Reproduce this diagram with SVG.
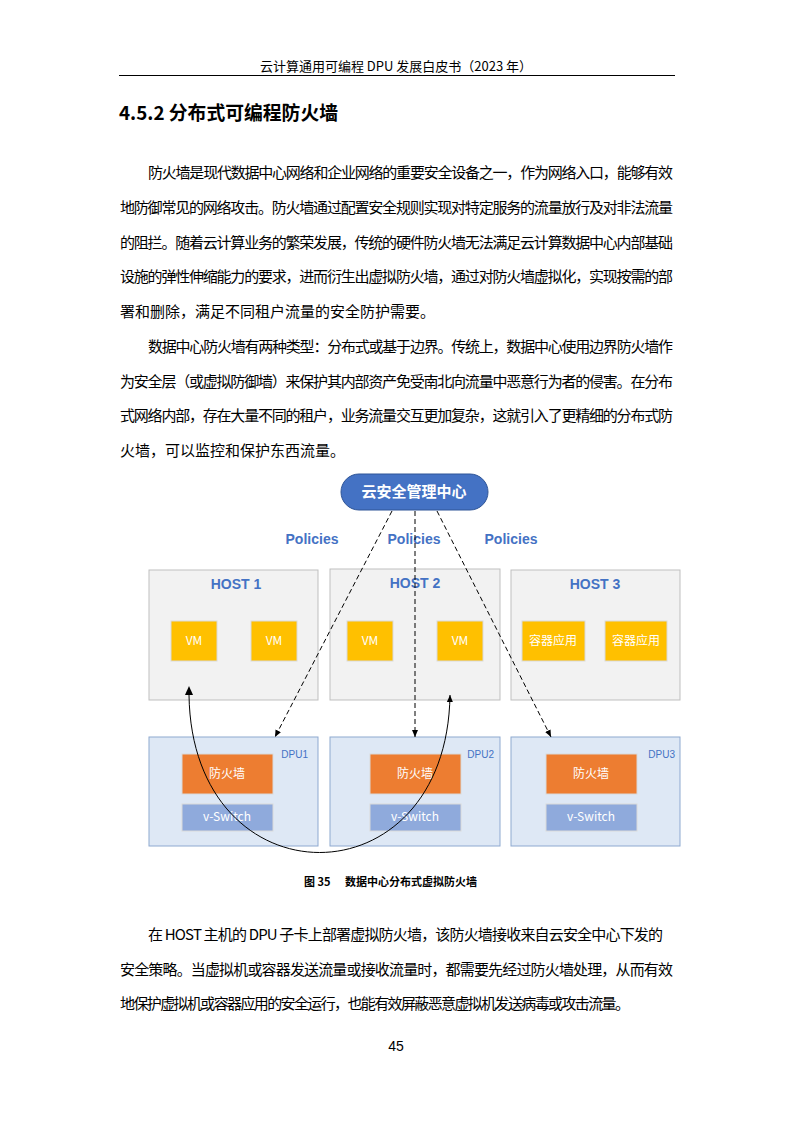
<svg xmlns="http://www.w3.org/2000/svg" width="793" height="1122" viewBox="0 0 793 1122">
<style>
.t{font-family:"Noto Sans CJK SC","Noto Sans",sans-serif;font-size:15px;fill:#000}
.host{fill:#f2f2f2;stroke:#bfbfbf;stroke-width:1}
.dpu{fill:#dee8f5;stroke:#8ea9d0;stroke-width:1}
.vm{fill:#ffc000;stroke:#d9d9d9;stroke-width:1}
.fw{fill:#ed7d31;stroke:#d9d9d9;stroke-width:1}
.vs{fill:#8faadc;stroke:#d9d9d9;stroke-width:1}
.wl{font-family:"Noto Sans CJK SC","Noto Sans",sans-serif;font-size:12px;fill:#fff;text-anchor:middle}
.hl{font-family:"Liberation Sans","Noto Sans",sans-serif;font-size:14px;font-weight:bold;fill:#4472c4;text-anchor:middle}
.dl{font-family:"Liberation Sans",sans-serif;font-size:10px;fill:#4472c4;text-anchor:end}
.dash{stroke:#000;stroke-width:1;stroke-dasharray:5,3;fill:none}
.cap{font-family:"Noto Sans CJK SC",sans-serif;font-size:11px;font-weight:bold}
</style>
<defs>
<marker id="ah" markerWidth="8" markerHeight="8" refX="7" refY="4" orient="auto" markerUnits="userSpaceOnUse"><path d="M0,1 L7,4 L0,7 z" fill="#000"/></marker>
</defs>
<rect width="793" height="1122" fill="#fff"/>
<text x="396" y="71" class="t" text-anchor="middle" style="font-size:13px">云计算通用可编程 DPU 发展白皮书（2023 年）</text>
<line x1="119" y1="75.5" x2="675" y2="75.5" stroke="#000" stroke-width="1"/>
<text x="119" y="120" class="t" style="font-size:19px;font-weight:bold" textLength="219" lengthAdjust="spacingAndGlyphs">4.5.2 分布式可编程防火墙</text>

<text x="148" y="178" class="t" textLength="525" lengthAdjust="spacing">防火墙是现代数据中心网络和企业网络的重要安全设备之一，作为网络入口，能够有效</text>
<text x="120" y="213" class="t" textLength="553" lengthAdjust="spacing">地防御常见的网络攻击。防火墙通过配置安全规则实现对特定服务的流量放行及对非法流量</text>
<text x="120" y="248" class="t" textLength="553" lengthAdjust="spacing">的阻拦。随着云计算业务的繁荣发展，传统的硬件防火墙无法满足云计算数据中心内部基础</text>
<text x="120" y="282" class="t" textLength="553" lengthAdjust="spacing">设施的弹性伸缩能力的要求，进而衍生出虚拟防火墙，通过对防火墙虚拟化，实现按需的部</text>
<text x="120" y="317" class="t">署和删除，满足不同租户流量的安全防护需要。</text>
<text x="148" y="352" class="t" textLength="525" lengthAdjust="spacing">数据中心防火墙有两种类型：分布式或基于边界。传统上，数据中心使用边界防火墙作</text>
<text x="120" y="387" class="t" textLength="553" lengthAdjust="spacing">为安全层（或虚拟防御墙）来保护其内部资产免受南北向流量中恶意行为者的侵害。在分布</text>
<text x="120" y="421" class="t" textLength="553" lengthAdjust="spacing">式网络内部，存在大量不同的租户，业务流量交互更加复杂，这就引入了更精细的分布式防</text>
<text x="120" y="456" class="t">火墙，可以监控和保护东西流量。</text>

<g id="host1"><rect class="host" x="149" y="570" width="169" height="130"/><text class="hl" x="236" y="589">HOST 1</text>
<rect class="vm" x="171" y="621" width="46" height="40"/><text class="wl" x="194" y="645">VM</text>
<rect class="vm" x="251" y="621" width="46" height="40"/><text class="wl" x="274" y="645">VM</text></g>
<g id="host2"><rect class="host" x="330" y="569" width="170" height="131"/><text class="hl" x="415" y="588">HOST 2</text>
<rect class="vm" x="347" y="621" width="46" height="40"/><text class="wl" x="370" y="645">VM</text>
<rect class="vm" x="437" y="621" width="46" height="40"/><text class="wl" x="460" y="645">VM</text></g>
<g id="host3"><rect class="host" x="511" y="570" width="169" height="130"/><text class="hl" x="595" y="589">HOST 3</text>
<rect class="vm" x="522" y="621" width="63" height="40"/><text class="wl" x="553" y="645">容器应用</text>
<rect class="vm" x="605" y="621" width="62" height="40"/><text class="wl" x="636" y="645">容器应用</text></g>

<g id="dpu1"><rect class="dpu" x="149" y="737" width="169" height="109"/><text class="dl" x="308" y="758">DPU1</text>
<rect class="fw" x="182" y="754" width="91" height="40"/><text class="wl" x="227" y="778">防火墙</text>
<rect class="vs" x="182" y="804" width="91" height="27"/><text class="wl" x="227" y="821">v-Switch</text></g>
<g id="dpu2"><rect class="dpu" x="330" y="737" width="170" height="109"/><text class="dl" x="494" y="758">DPU2</text>
<rect class="fw" x="370" y="754" width="91" height="40"/><text class="wl" x="415" y="778">防火墙</text>
<rect class="vs" x="370" y="804" width="91" height="27"/><text class="wl" x="415" y="821">v-Switch</text></g>
<g id="dpu3"><rect class="dpu" x="511" y="737" width="169" height="109"/><text class="dl" x="675" y="758">DPU3</text>
<rect class="fw" x="546" y="754" width="91" height="40"/><text class="wl" x="591" y="778">防火墙</text>
<rect class="vs" x="546" y="804" width="91" height="27"/><text class="wl" x="591" y="821">v-Switch</text></g>

<g id="center"><rect x="341" y="474" width="147" height="36" rx="18" fill="#4472c4" stroke="#2f5597" stroke-width="1"/>
<text x="414" y="497" text-anchor="middle" style="font-family:'Noto Sans CJK SC',sans-serif;font-size:15px;font-weight:bold;fill:#fff">云安全管理中心</text></g>

<g id="labels">
<text class="hl" x="312" y="544">Policies</text>
<text class="hl" x="414" y="544">Policies</text>
<text class="hl" x="511" y="544">Policies</text>
</g>

<g id="connectors">
<line class="dash" x1="392" y1="511" x2="275" y2="737" marker-end="url(#ah)"/>
<line class="dash" x1="415" y1="511" x2="415" y2="737" marker-end="url(#ah)"/>
<line class="dash" x1="437" y1="511" x2="551" y2="737" marker-end="url(#ah)"/>
<path d="M189,695 C192,905 447,905 450,695" fill="none" stroke="#000" stroke-width="1" marker-end="url(#ah)"/>
<path d="M185,695 L189,686 L193,695 z" fill="#000"/>
</g>

<text x="304" y="886" class="cap">图 35</text>
<text x="345" y="886" class="cap">数据中心分布式虚拟防火墙</text>

<text x="148" y="940" class="t" textLength="515" lengthAdjust="spacing">在 HOST 主机的 DPU 子卡上部署虚拟防火墙，该防火墙接收来自云安全中心下发的</text>
<text x="120" y="975" class="t" textLength="553" lengthAdjust="spacing">安全策略。当虚拟机或容器发送流量或接收流量时，都需要先经过防火墙处理，从而有效</text>
<text x="120" y="1009" class="t" textLength="510" lengthAdjust="spacing">地保护虚拟机或容器应用的安全运行，也能有效屏蔽恶意虚拟机发送病毒或攻击流量。</text>
<text x="396" y="1051" text-anchor="middle" style="font-family:'Liberation Sans',sans-serif;font-size:14px">45</text>
</svg>
